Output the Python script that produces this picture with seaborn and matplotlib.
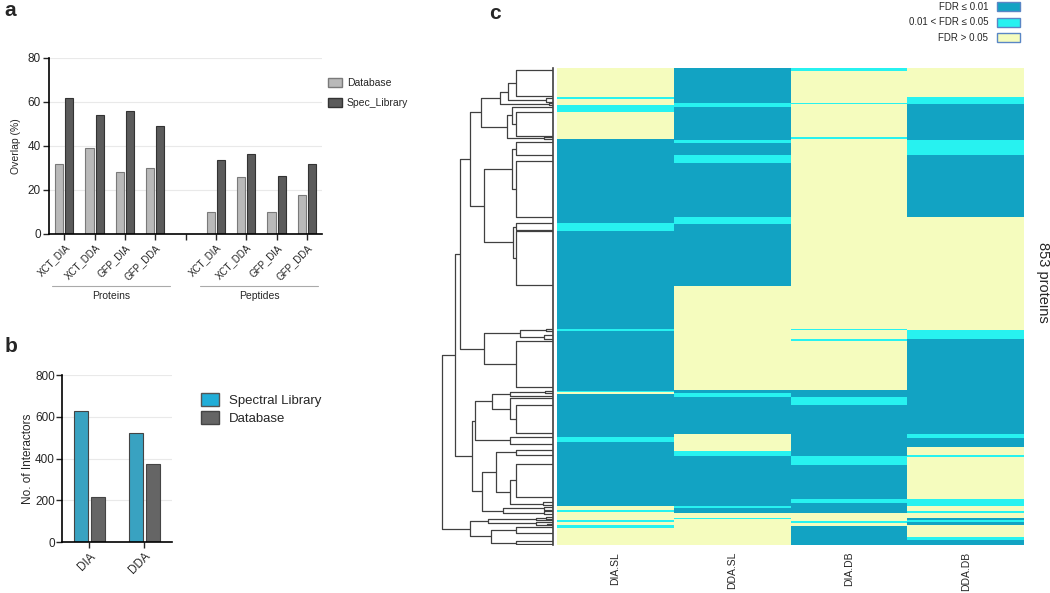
import numpy as np
import pandas as pd
import matplotlib
matplotlib.use('Agg')
from matplotlib import pyplot as plt
from matplotlib.colors import ListedColormap
from matplotlib.patches import Patch
import seaborn as sns

sns.set_style('white')
plt.rcParams['font.family'] = ['Liberation Sans', 'DejaVu Sans']

# ---- panel a: overlap (%) ----
groups_a = ['Proteins'] * 4 + ['Peptides'] * 4
samples_a = ['XCT_DIA', 'XCT_DDA', 'GFP_DIA', 'GFP_DDA'] * 2
db_a = [32, 39, 28, 30, 10, 26, 10, 17.5]
sl_a = [62, 54, 56, 49, 33.5, 36.5, 26.5, 32]

# ---- panel b: number of interactors ----
methods_b = ['DIA', 'DDA']
sl_b = [628, 524]
db_b = [215, 376]

# ---- panel c: FDR class per protein (run lengths, rows top to bottom) ----
# codes: 0 = FDR <= 0.01, 1 = 0.01 < FDR <= 0.05, 2 = FDR > 0.05
heat_cols = ['DIA.SL', 'DDA.SL', 'DIA.DB', 'DDA.DB']
dia_sl_len = [52, 3, 12, 12, 48, 150, 14, 176, 3, 107, 3, 3, 77, 8, 116, 6, 4, 14, 4, 6, 4, 31]
dia_sl_code = [2, 1, 2, 1, 2, 0, 1, 0, 1, 0, 1, 2, 0, 1, 0, 2, 1, 2, 1, 2, 1, 2]
dda_sl_len = [63, 6, 59, 6, 22, 13, 98, 12, 110, 187, 6, 7, 66, 29, 10, 89, 3, 10, 8, 3, 46]
dda_sl_code = [0, 1, 0, 1, 0, 1, 0, 1, 0, 2, 0, 1, 0, 2, 1, 0, 1, 0, 2, 1, 2]
dia_db_len = [6, 57, 2, 58, 4, 340, 2, 15, 4, 88, 12, 15, 90, 17, 61, 6, 19, 14, 3, 6, 34]
dia_db_code = [1, 2, 1, 2, 1, 2, 1, 2, 1, 2, 0, 1, 0, 1, 0, 1, 0, 2, 1, 2, 0]
dda_db_len = [52, 12, 64, 28, 111, 202, 15, 171, 7, 15, 15, 3, 76, 12, 10, 3, 9, 3, 4, 6, 21, 5, 9]
dda_db_code = [2, 1, 0, 1, 0, 2, 1, 0, 1, 0, 2, 1, 2, 1, 2, 1, 2, 0, 1, 0, 2, 1, 0]
fdr_labels = ['FDR \u2264 0.01', '0.01 < FDR \u2264 0.05', 'FDR > 0.05']
fdr_colors = ['#12a3c3', '#27f2f0', '#f5fcbe']

# row dendrogram: (merge height, left, right); plain numbers are leaf rows
row_tree = (10.0,
            (8.8,
             (8.4,
              (7.5,
               (6.5,
                (4.8, (4.0, (3.3, 4, 50), (0.6, 53, 61)), (0.4, 62, 66)),
                (4.1, (3.7, 69, (3.3, 79, 122)), (0.8, 123, 127))),
               (6.2,
                (3.7, (3.3, 133, 155), (3.3, 167, 266)),
                (3.6, (3.3, 277, 290), (3.3, 292, 388)))),
              (6.2, (3.0, (0.6, 466, 471), (0.8, 477, 484)), (3.3, 488, 570))),
             (7.3,
              (7.0,
               (5.5, (3.9, (0.7, 577, 581), 586), (3.9, 590, (3.3, 603, 653))),
               (3.9, 659, 672)),
              (6.4,
               (5.1, (3.3, 683, 692), (3.9, (3.3, 708, 767), (0.9, 776, 782))),
               (4.5, (0.8, 785, 790), (0.8, 793, 798))))),
            (7.5,
             (5.8, (1.5, (0.6, 803, 806), 808), (1.5, 812, (0.5, 815, 818))),
             (5.6, (3.3, 821, 831), (3.3, 846, 852))))

fig = plt.figure(figsize=(10.5, 5.93), dpi=100)

# ================= panel a =================
ax_a = fig.add_axes([0.0467, 0.6054, 0.260, 0.2968])
keys_a = [g + ':' + s for g, s in zip(groups_a, samples_a)]
order_a = keys_a[:4] + ['gap'] + keys_a[4:]
df_a = pd.DataFrame({
    'key': keys_a * 2,
    'value': db_a + sl_a,
    'source': ['Database'] * 8 + ['Spec_Library'] * 8,
})
sns.barplot(data=df_a, x='key', y='value', hue='source', order=order_a,
            hue_order=['Database', 'Spec_Library'],
            palette=['#b9b9b9', '#5b5b5b'], width=0.68, gap=0.2,
            linewidth=0.8, edgecolor='#555555', legend=False, ax=ax_a)
for cont, ec in zip(ax_a.containers, ['#7a7a7a', '#333333']):
    for bar in cont:
        bar.set_edgecolor(ec)
ax_a.set_ylim(0, 80)
ax_a.set_yticks([0, 20, 40, 60, 80])
ax_a.set_xlim(-0.5, 8.5)
ax_a.set_xticks(range(9))
ax_a.set_xticklabels(samples_a[:4] + [''] + samples_a[4:], rotation=45,
                     ha='right', rotation_mode='anchor', fontsize=7)
ax_a.tick_params(axis='y', labelsize=8.5, length=4, width=1, direction='out', left=True, pad=2)
ax_a.tick_params(axis='x', length=4, width=1, direction='out', bottom=True, pad=2)
ax_a.set_xlabel('')
ax_a.set_ylabel('Overlap (%)', fontsize=7.5, labelpad=5)
ax_a.yaxis.grid(True, color='#e9e9e9', lw=0.8)
ax_a.set_axisbelow(True)
for side in ['top', 'right']:
    ax_a.spines[side].set_visible(False)
for side in ['left', 'bottom']:
    ax_a.spines[side].set_color('black')
    ax_a.spines[side].set_linewidth(1.2)
trans_a = ax_a.get_xaxis_transform()
for name, x0, x1 in [('Proteins', -0.4, 3.49), ('Peptides', 4.48, 8.38)]:
    ax_a.plot([x0, x1], [-0.295, -0.295], color='#aaaaaa', lw=0.8,
              transform=trans_a, clip_on=False)
    ax_a.text((x0 + x1) / 2, -0.35, name, transform=trans_a, ha='center',
              va='center', fontsize=7.5)
ax_a.legend(handles=[Patch(facecolor='#b9b9b9', edgecolor='#7a7a7a', label='Database'),
                     Patch(facecolor='#5b5b5b', edgecolor='#333333', label='Spec_Library')],
            loc='upper left', bbox_to_anchor=(0.988, 0.9375), frameon=False,
            fontsize=7.5, handlelength=1.3, handleheight=0.9, labelspacing=0.95,
            handletextpad=0.5)

# ================= panel b =================
ax_b = fig.add_axes([0.059, 0.086, 0.1048, 0.2816])
df_b = pd.DataFrame({
    'method': methods_b * 2,
    'value': sl_b + db_b,
    'source': ['Spectral Library'] * 2 + ['Database'] * 2,
})
sns.barplot(data=df_b, x='method', y='value', hue='source', order=methods_b,
            hue_order=['Spectral Library', 'Database'],
            palette=['#22aed8', '#656565'], width=0.62, gap=0.15,
            linewidth=0.8, edgecolor='#444444', legend=False, ax=ax_b)
ax_b.set_ylim(0, 800)
ax_b.set_yticks([0, 200, 400, 600, 800])
ax_b.set_xlim(-0.5, 1.5)
ax_b.set_xticks([0, 1])
ax_b.set_xticklabels(methods_b, rotation=45, ha='right', rotation_mode='anchor', fontsize=8.5)
ax_b.tick_params(axis='y', labelsize=8.5, length=4, width=1, direction='out', left=True, pad=1)
ax_b.tick_params(axis='x', length=4, width=1, direction='out', bottom=True, pad=2)
ax_b.set_xlabel('')
ax_b.set_ylabel('No. of Interactors', fontsize=8.5, labelpad=1)
ax_b.yaxis.grid(True, color='#e9e9e9', lw=0.8)
ax_b.set_axisbelow(True)
for side in ['top', 'right']:
    ax_b.spines[side].set_visible(False)
for side in ['left', 'bottom']:
    ax_b.spines[side].set_color('black')
    ax_b.spines[side].set_linewidth(1.2)
ax_b.legend(handles=[Patch(facecolor='#22aed8', edgecolor='#555555', label='Spectral Library'),
                     Patch(facecolor='#656565', edgecolor='#444444', label='Database')],
            loc='upper left', bbox_to_anchor=(1.155, 0.964), frameon=False,
            fontsize=9.5, handlelength=1.4, handleheight=1.1, labelspacing=0.35,
            handletextpad=0.7)

# ================= panel c =================
fdr = pd.DataFrame({
    heat_cols[0]: np.repeat(dia_sl_code, dia_sl_len),
    heat_cols[1]: np.repeat(dda_sl_code, dda_sl_len),
    heat_cols[2]: np.repeat(dia_db_code, dia_db_len),
    heat_cols[3]: np.repeat(dda_db_code, dda_db_len),
})
ax_c = fig.add_axes([0.5305, 0.0809, 0.4448, 0.8044])
sns.heatmap(fdr, cmap=ListedColormap(fdr_colors), vmin=-0.5, vmax=2.5,
            cbar=False, xticklabels=True, yticklabels=False, ax=ax_c)
ax_c.set_xticklabels(heat_cols, rotation=90, fontsize=7.5)
ax_c.tick_params(axis='x', length=0, pad=5)
ax_c.set_ylabel('')
ax_c.yaxis.set_label_position('right')
ax_c.set_ylabel(f'{len(fdr)} proteins', fontsize=10.5, rotation=-90, va='center')
ax_c.yaxis.set_label_coords(1.04, 0.55)

# dendrogram
ax_d = fig.add_axes([0.4143, 0.0809, 0.1124, 0.8044])


def draw_node(ax, node):
    if not isinstance(node, tuple):
        return float(node), 0.0
    h, left, right = node
    y1, h1 = draw_node(ax, left)
    y2, h2 = draw_node(ax, right)
    ax.plot([h1, h, h, h2], [y1, y1, y2, y2], color='#404040', lw=0.9,
            solid_capstyle='butt')
    return (y1 + y2) / 2, h


draw_node(ax_d, row_tree)
ax_d.set_xlim(10.6, 0)
ax_d.set_ylim(len(fdr), 0)
ax_d.set_xticks([])
ax_d.set_yticks([])
for side in ['top', 'left', 'bottom']:
    ax_d.spines[side].set_visible(False)
ax_d.spines['right'].set_color('#404040')
ax_d.spines['right'].set_linewidth(1.2)

fig.legend(handles=[Patch(facecolor=c, edgecolor='#5a86c5', label=l)
                    for c, l in zip(fdr_colors, fdr_labels)],
           loc='upper right', bbox_to_anchor=(0.98, 1.012), frameon=False,
           markerfirst=False, fontsize=7, handlelength=2.4, handleheight=1.05,
           labelspacing=0.6, handletextpad=0.9)

# panel letters
for letter, x, y in [('a', 0.004, 0.982), ('b', 0.004, 0.415), ('c', 0.466, 0.978)]:
    fig.text(x, y, letter, fontsize=15, fontweight='bold', va='center')

fig.savefig('out.png', dpi=100)
